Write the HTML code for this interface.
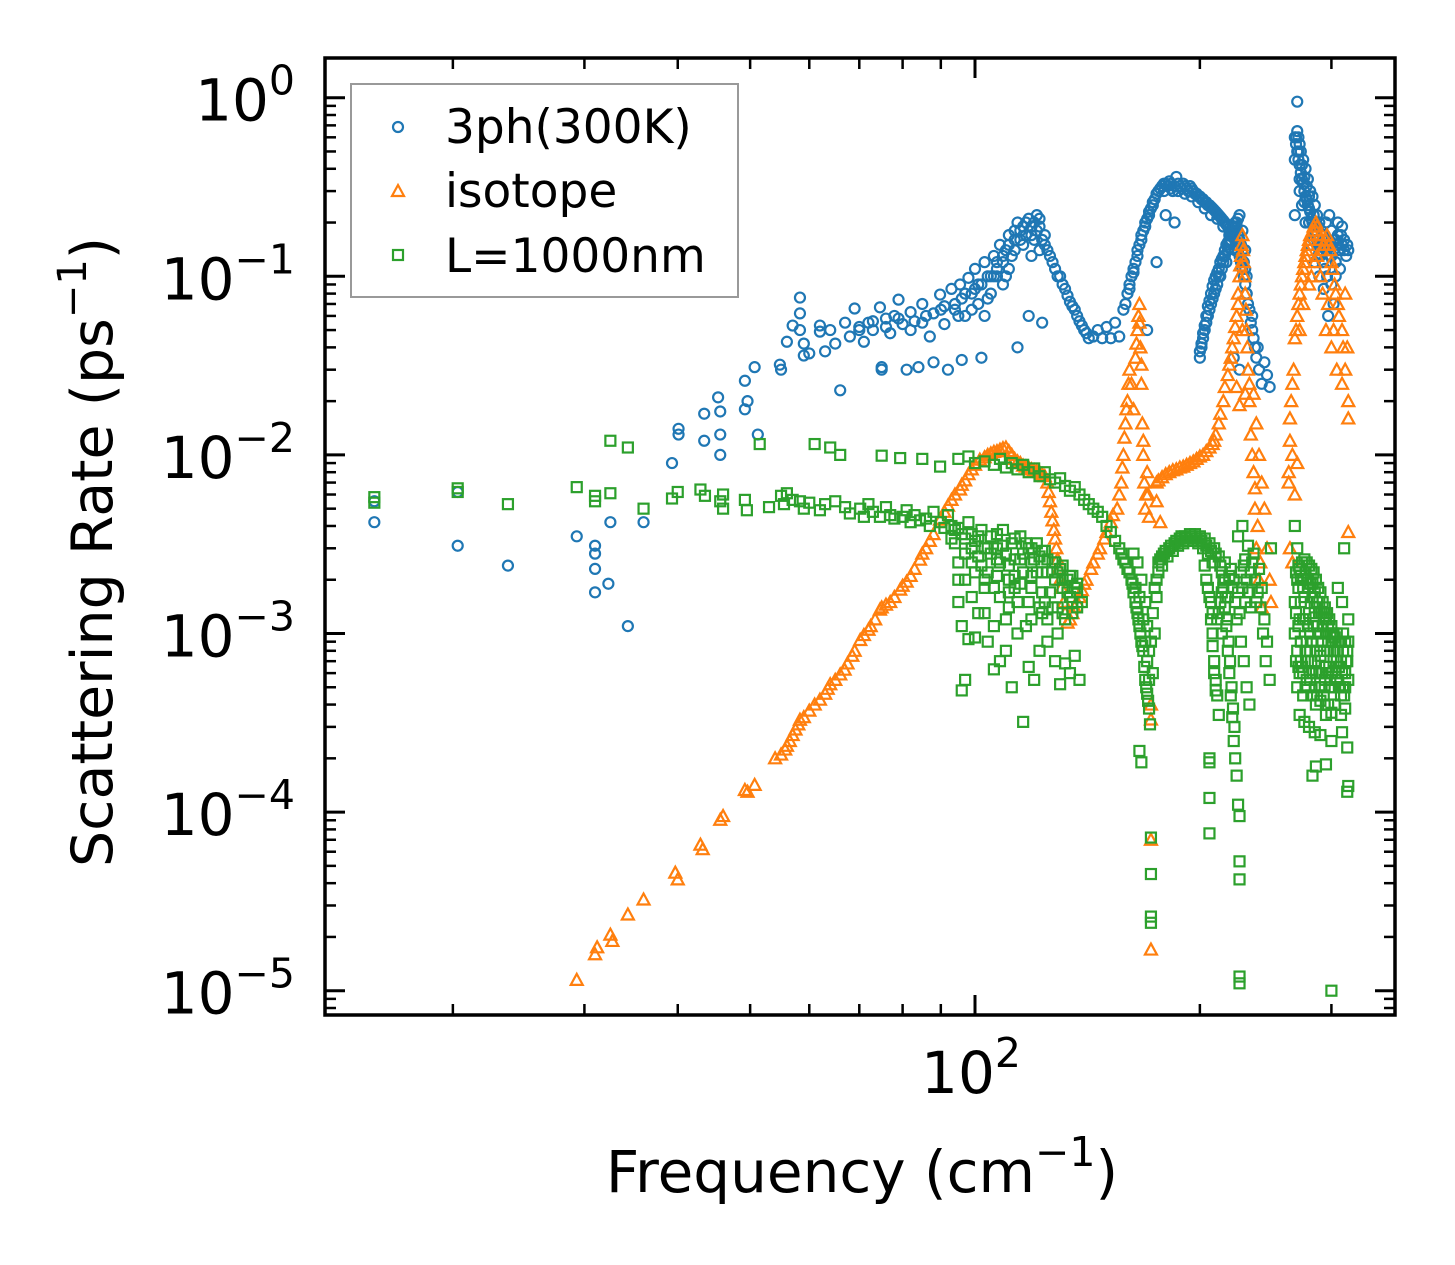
<!DOCTYPE html>
<html><head><meta charset="utf-8"><style>
html,body{margin:0;padding:0;background:#fff;}
svg{display:block;font-family:"DejaVu Sans","Liberation Sans",sans-serif;}
</style></head><body>
<svg id="chart" width="1455" height="1265" viewBox="0 0 1455 1265" xmlns="http://www.w3.org/2000/svg">
<defs><clipPath id="clip"><rect x="325" y="58" width="1070" height="957"/></clipPath></defs>
<g id="marks" clip-path="url(#clip)"></g>
<g id="axes"></g>
<g id="legend">
<rect x="351" y="84" width="387" height="213" fill="#fff" fill-opacity="0.8" stroke="#999" stroke-width="2"/>
<circle cx="398" cy="127" r="5" fill="none" stroke="#1f77b4" stroke-width="2.2"/>
<text x="445" y="143" font-size="47">3ph(300K)</text>
<path d="M398,185 L404,196 L392,196 Z" fill="none" stroke="#ff7f0e" stroke-width="2.2"/>
<text x="445" y="207" font-size="47">isotope</text>
<rect x="393" y="250" width="10" height="10" fill="none" stroke="#2ca02c" stroke-width="2.2"/>
<text x="445" y="272" font-size="47">L=1000nm</text>
</g>
<text x="862" y="1192" font-size="58" text-anchor="middle">Frequency (cm<tspan dy="-26" font-size="41">−1</tspan><tspan dy="26">)</tspan></text>
<text transform="translate(112,552) rotate(-90)" font-size="57" text-anchor="middle">Scattering Rate (ps<tspan dy="-26" font-size="40">−1</tspan><tspan dy="26">)</tspan></text>
</svg>
<script>
const yTickExps = [0, -1, -2, -3, -4, -5];
const xMajorTicks = [100];
const xMinorTicks = [20, 30, 40, 50, 60, 70, 80, 90, 200, 300];

const ph3 = [[15.7,5.5e-3],[15.7,4.2e-3],[20.3,6.2e-3],[20.3,3.1e-3],[23.7,2.4e-3],[29.3,3.5e-3],[31,3.1e-3],[31,2.8e-3],[31,2.3e-3],[31,1.7e-3],[32.3,1.9e-3],[32.5,4.2e-3],[34.3,1.1e-3],[36,4.2e-3],[39.3,9e-3],[40.1,1.4e-2],[40.1,1.3e-2],[43.4,1.2e-2],[43.4,1.7e-2],[45.3,2.1e-2],[45.6,1.75e-2],[45.6,1e-2],[45.6,1.3e-2],[49.2,2.6e-2],[49.6,2e-2],[49.2,1.8e-2],[50.7,3.1e-2],[51.2,1.3e-2],
[54.8,3.2e-2],[55,3e-2],[56,4.3e-2],[57,5.3e-2],[58.3,7.6e-2],[58.3,6.2e-2],[58.3,5e-2],[59,4.2e-2],[59,3.6e-2],[60,3.7e-2],[62,5.3e-2],[62,4.9e-2],[63,3.8e-2],[64,5e-2],[65,4.2e-2],[66,2.3e-2],[67,5.5e-2],[68,4.6e-2],[69,6.6e-2],[70,5.2e-2],[71,4.3e-2],[72,5.5e-2],[73,5e-2],[74.6,6.7e-2],[75,3e-2],[75,3.1e-2],[76,5.8e-2],[77,4.8e-2],[78,6e-2],[79,7.4e-2],[80,5.4e-2],[81,3e-2],[82,6.3e-2],[83,5.6e-2],[84,3.1e-2],[85,7e-2],[86,6e-2],[87,4.6e-2],[88,3.3e-2],[89.8,7.9e-2],[90,6.5e-2],[91,5.4e-2],[92,3e-2],[93,8.5e-2],[94,7e-2],[95,6e-2],[95.5,9e-2],[96,3.4e-2],[98,9.8e-2],[99,8e-2],[100,0.11],[101,7e-2],[102,3.5e-2],[103,0.12],[104,0.1],[105,8e-2],[106,0.13],[107,0.1],[108,0.15],[109,0.12],[110,0.14],[111,0.17],[112,0.13],[113,0.18],[114,0.2],[115,0.16],[116,0.19],[117,0.2],[118,0.21],[119,0.17],[120,0.2],[121,0.22],[122,0.19],[123,0.16],[124,0.15],[126,0.13],[128,0.11],[130,0.1],[132,8.5e-2],[134,7.2e-2],[136,6.5e-2],[138,5.6e-2],[140,5e-2],[142,4.5e-2],[144,4.6e-2],[146,5e-2],[148,4.5e-2],[150,5.2e-2],[152,4.5e-2],[154,5.5e-2],[156,4.6e-2],[118,6e-2],[123,5.5e-2],[114,4e-2],
[96,7.5e-2],[99,6.5e-2],[101,9e-2],[104,7.5e-2],[106,0.1],[109,9e-2],[111,0.11],[113,0.14],[116,0.15],[119,0.13],[122,0.14],[110,0.1],[107,0.12],[103,6e-2],
[158,6.5e-2],[160,8e-2],[162,0.1],[164,0.12],[166,0.15],[168,0.18],[170,0.21],[172,0.24],[174,0.27],[176,0.3],[178,0.32],[180,0.33],[182,0.34],[184,0.3],[186,0.36],[188,0.32],[190,0.33],[192,0.31],[194,0.32],[196,0.3],[198,0.29],[200,0.28],[202,0.27],[204,0.26],[206,0.25],[208,0.24],[210,0.23],[212,0.22],[214,0.21],[216,0.2],[218,0.19],[220,0.18],[222,0.17],[224,0.15],[226,0.13],[228,0.11],[230,9e-2],[232,7e-2],[234,5.5e-2],[236,4.5e-2],[238,3.5e-2],[240,3e-2],[242,2.5e-2],[170,0.05],[175,0.12],[180,0.22],[185,0.2],
[161,9e-2],[163,0.11],[165,0.13],[167,0.16],[169,0.2],[171,0.22],[173,0.25],[179,0.3],[183,0.31],[187,0.3],[191,0.29],[195,0.28],[199,0.26],[203,0.24],[207,0.22],[211,0.21],[215,0.19],[219,0.17],[223,0.14],[227,0.12],[231,8e-2],[235,6e-2],[239,4e-2],[244,3.3e-2],[246,2.8e-2],[248,2.4e-2],
[200,3.8e-2],[202,4.5e-2],[204,5.5e-2],[206,6.5e-2],[208,7.5e-2],[210,8.5e-2],[212,0.1],[214,0.11],[216,0.13],[218,0.14],[220,0.16],[222,0.18],[224,0.2],[226,0.22],[228,0.18],[230,0.14],[222,3.5e-2],[226,3e-2],[201,4.2e-2],[203,5e-2],[205,6e-2],[207,7e-2],[209,8e-2],[211,9e-2],[213,0.1],[215,0.12],[217,0.12],[219,0.15],[221,0.17],[223,0.19],[225,0.21],
[268,0.22],[268,0.45],[270,0.95],[270,0.65],[271,0.6],[272,0.55],[273,0.5],[275,0.45],[277,0.4],[279,0.35],[281,0.3],[283,0.28],[285,0.25],[287,0.22],[289,0.2],[291,0.18],[293,0.17],[295,0.2],[298,0.22],[300,0.18],[303,0.16],[306,0.15],[309,0.17],[312,0.14],[315,0.15],[272,0.3],[274,0.25],[277,0.2],[281,0.15],[285,0.12],[289,0.1],[293,0.085],[297,0.06],[302,0.07],[294,0.11],[306,0.2],[310,0.19],[269,0.6],[271,0.5],[274,0.42],[276,0.36],[278,0.32],[280,0.28],[284,0.22],[288,0.19],[292,0.16],[296,0.14],[300,0.13],[304,0.12]];

const ph3Dense = [[159,7e-2],[161,8.5e-2],[163,0.105],[165,0.14],[167,0.17],[169,0.19],[171,0.23],[173,0.26],[175,0.29],[177,0.31],[179,0.33],[181,0.32],[183,0.33],[185,0.32],[187,0.33],[189,0.31],[191,0.32],[193,0.3],[195,0.31],[197,0.29],[199,0.28],[201,0.27],[203,0.26],[205,0.25],[207,0.245],[209,0.235],[211,0.225],[213,0.215],[215,0.205],[217,0.195],[219,0.185],[221,0.175],[223,0.16],[225,0.14],[227,0.125],[229,0.1],[231,8e-2],[233,6.5e-2],[235,5e-2],[237,4e-2],
[200,3.5e-2],[201,4e-2],[202,4.8e-2],[203,5.3e-2],[204,6e-2],[205,6.8e-2],[206,7.3e-2],[207,8e-2],[208,8.8e-2],[209,9.5e-2],[210,0.1],[211,0.105],[212,0.11],[213,0.12],[214,0.125],[215,0.13],[216,0.14],[217,0.15],[218,0.155],[219,0.16],[220,0.17],[221,0.18],[222,0.185],[223,0.2],[224,0.19],[225,0.17],[226,0.16],[227,0.15],[228,0.14],[229,0.12],[230,0.11],[231,0.1],
[268,0.6],[269,0.55],[270,0.5],[271,0.45],[272,0.42],[273,0.38],[274,0.35],[275,0.33],[276,0.3],[277,0.28],[278,0.27],[279,0.25],[280,0.24],[281,0.23],[282,0.21],[283,0.2],[284,0.19],[285,0.18],[286,0.17],[287,0.16],[288,0.15],[289,0.14],[290,0.13],[291,0.14],[292,0.15],[293,0.16],[294,0.17],[295,0.16],[296,0.15],[297,0.16],[298,0.15],[299,0.14],[300,0.15],[302,0.14],[304,0.16],[306,0.17],[308,0.14],[310,0.15],[312,0.16],[314,0.13],[316,0.14],[272,0.35],[276,0.26],[280,0.2],[284,0.16],[288,0.13],[292,0.12],[296,0.1],[300,0.09],[304,0.1],[308,0.11],
[97,6e-2],[100,8.5e-2],[102,9e-2],[105,0.1],[107,0.11],[109,0.13],[111,0.15],[113,0.16],[115,0.18],[117,0.17],[119,0.19],[120,0.16],[121,0.18],[122,0.21],[124,0.17],[125,0.14],[127,0.12],[129,0.1],[131,9e-2],[133,7.8e-2],[135,6.8e-2],[137,6e-2],[139,5.3e-2],[141,4.8e-2],[85,5.5e-2],[88,6.2e-2],[91,6.8e-2],[94,6.5e-2],[97,8e-2],[82,5e-2],[79,5.8e-2],[76,5.2e-2],[73,5.6e-2],[70,5e-2]];

const iso = [[29.3,1.15e-5],[31,1.6e-5],[31.2,1.75e-5],[32.5,2.06e-5],[32.7,1.9e-5],[34.3,2.67e-5],[36,3.24e-5],[39.7,4.58e-5],[40,4.2e-5],[42.9,6.57e-5],[43.2,6.2e-5],[45.6,9.06e-5],[46,9.5e-5],[49.2,1.33e-4],[49.6,1.3e-4],[50.7,1.42e-4],[54,2e-4],[55.7,2.24e-4],[56.5,2.5e-4],[57.5,2.9e-4],[58.3,3.29e-4],[60,3.7e-4],[62,4.26e-4],[63.5,4.9e-4],[65,5.5e-4],[66.9,6.27e-4],[68.5,7.5e-4],[70.2,9.2e-4],[72,1.05e-3],[73.5,1.2e-3],[74.6,1.36e-3],[76,1.45e-3],[78,1.6e-3],[79.4,1.76e-3],[81,1.95e-3],[83,2.3e-3],[84.4,2.59e-3],[86,3e-3],[88,3.6e-3],[89.8,4.34e-3],[91,4.8e-3],[93,5.6e-3],[95.5,6.4e-3],[97,7.2e-3],[99,8.3e-3],[101.5,9.4e-3],[104,1e-2],[106,1.04e-2],[108,1.07e-2],[110,1.1e-2],[112,1e-2],[115,9e-3],[118,8.5e-3],[120,8.2e-3],[122,8e-3],[124,7.6e-3],[125,7e-3],[126,5.5e-3],[127,4.3e-3],[128,3.4e-3],[129,2.6e-3],[130,2e-3],[131.5,1.5e-3],[133,1.15e-3],
[134,1.2e-3],[136,1.4e-3],[138,1.6e-3],[140,1.9e-3],[143,2.3e-3],[146,2.8e-3],[149,3.4e-3],[152,4.2e-3],[155,5e-3],[157,7e-3],[158,1e-2],[159,1.5e-2],[160,2e-2],[161,3e-2],[162,2.5e-2],[163,1.8e-2],[164,3.5e-2],[165,5e-2],[166,7e-2],[166.5,4e-2],[167,2.5e-2],[167.5,1.5e-2],[168,1e-2],[168.5,7e-3],[169,5e-3],[170,8e-3],[170.5,6e-3],[171,4.5e-3],[172,4e-4],[172,7e-5],[172,1.7e-5],[172,3.3e-4],
[175,7e-3],[178,7.5e-3],[182,8e-3],[186,8.3e-3],[190,8.6e-3],[194,9e-3],[198,9.5e-3],[202,1e-2],[206,1.1e-2],[209,1.2e-2],[175,5.5e-3],[177,4.2e-3],
[212,1.5e-2],[215,2e-2],[218,2.8e-2],[220,3.5e-2],[222,4.5e-2],[224,6e-2],[225,8e-2],[226,0.1],[227,0.13],[228,0.17],[229,0.12],[230,0.08],[231,0.05],[232,3e-2],[233,2e-2],[234,1.3e-2],[236,8e-3],[237,5e-3],[238,3e-3],[240,2e-3],[242,1.4e-3],[230,2.2e-2],[226,1.9e-2],[224,2.4e-2],[228,5e-2],[236,2.2e-2],[238,1.5e-2],[240,1e-2],[242,7e-3],[244,5e-3],[246,3e-3],[248,2e-3],[249,1.5e-3],
[263,7e-3],[264,1.2e-2],[265,2e-2],[267,3e-2],[268,4.5e-2],[270,6e-2],[272,8e-2],[274,0.1],[276,0.12],[278,0.14],[280,0.16],[283,0.18],[286,0.2],[289,0.17],[292,0.14],[295,0.16],[298,0.15],[300,0.12],[303,9e-2],[306,7e-2],[310,5e-2],[313,8e-2],[315,4e-2],[316,2e-2],[316,1.6e-2],[316,3.7e-3],[264,3e-3],[266,2.5e-3],[263,8e-3],[290,0.1],[295,5e-2],[300,4e-2],[305,3e-2],[310,2.5e-2],[285,0.12],[280,0.09],[275,0.07],[272,0.05]];

const isoDense = [[55,2.1e-4],[56,2.35e-4],[57,2.7e-4],[58,3.1e-4],[59,3.4e-4],[61,4e-4],[63,4.6e-4],[64,5.2e-4],[66,5.9e-4],[67.5,6.8e-4],[69,8e-4],[71,9.8e-4],[72.5,1.1e-3],[75,1.4e-3],[77,1.5e-3],[80,1.85e-3],[82,2.1e-3],[85,2.8e-3],[87,3.3e-3],[90,4.4e-3],[92,5.2e-3],[94,6e-3],[96,6.8e-3],[98,7.8e-3],[100,8.8e-3],[103,9.7e-3],[105,1.02e-2],[107,1.05e-2],[109,1.09e-2],[111,1.05e-2],[113,9.5e-3],[114,9.2e-3],[116,8.7e-3],[117,8.6e-3],[119,8.3e-3],[121,8.1e-3],[123,7.8e-3],[125.5,6.2e-3],[126.5,4.8e-3],[127.5,3.8e-3],[128.5,3e-3],[129.5,2.3e-3],[130.5,1.8e-3],[132,1.3e-3],
[135,1.3e-3],[137,1.5e-3],[139,1.75e-3],[141,2e-3],[144,2.5e-3],[147,3e-3],[150,3.7e-3],[153,4.6e-3],[156,6e-3],[157.5,8.5e-3],[158.5,1.25e-2],[159.5,1.8e-2],[160.5,2.5e-2],[164.5,4.2e-2],[165.5,6e-2],[166,5.5e-2],[167,3.2e-2],[168,1.2e-2],[169.5,6e-3],
[176,7.2e-3],[180,7.8e-3],[184,8.2e-3],[188,8.5e-3],[192,8.8e-3],[196,9.2e-3],[200,9.8e-3],[204,1.05e-2],[208,1.15e-2],[210,1.3e-2],[213,1.7e-2],[216,2.4e-2],[219,3.2e-2],[221,4e-2],[223,5.2e-2],[225,7e-2],[226.5,0.115],[227.5,0.15],[228.5,0.14],[229.5,0.1],[230.5,6.5e-2],[231.5,4e-2],[233,2.5e-2],[235,1e-2],[237,6.5e-3],[239,4e-3],[241,2.5e-3],
[264,1.6e-2],[266,2.5e-2],[269,5e-2],[271,7e-2],[273,9e-2],[275,0.11],[277,0.13],[279,0.15],[281,0.17],[284,0.19],[287,0.19],[290,0.16],[293,0.15],[296,0.17],[299,0.14],[301,0.11],[304,8e-2],[307,6e-2],[311,4e-2],[313,3e-2],[266,1e-2],[268,6e-3],[270,9e-3],[282,0.1],[287,0.13],[292,0.08],[297,0.07],[302,0.05]];

const bnd = [[15.7,5.8e-3],[15.7,5.4e-3],[20.3,6.5e-3],[20.3,6.2e-3],[23.7,5.3e-3],[29.3,6.6e-3],[31,5.9e-3],[31,5.5e-3],[32.5,1.2e-2],[32.5,6.1e-3],[34.3,1.1e-2],[36,5e-3],[39.3,5.7e-3],[40,6.2e-3],[42.9,6.4e-3],[43.5,5.9e-3],[45.6,5.5e-3],[46,6e-3],[46,5e-3],[49.2,5.6e-3],[49.5,4.9e-3],[51.5,1.15e-2],[53,5.1e-3],[55,5.9e-3],[55.5,5.3e-3],[56,6.1e-3],[57,5.6e-3],[58.3,5.5e-3],[59,5e-3],[60,5.4e-3],[61,1.15e-2],[62,4.9e-3],[63,5.3e-3],[64,1.1e-2],[65,5.5e-3],[66,1e-2],[67,5.1e-3],[68,4.7e-3],[70.2,5e-3],[71,4.5e-3],[72,5.3e-3],[73,4.8e-3],[74.6,4.5e-3],[75,9.9e-3],[76,5.1e-3],[77,4.6e-3],[78,4.4e-3],[79.4,9.6e-3],[80,4.5e-3],[81,4.9e-3],[82,4.2e-3],[83,4.6e-3],[84.4,4.3e-3],[85,9.5e-3],[86,4.4e-3],[87,4e-3],[88,4.8e-3],[89.8,8.6e-3],[90,4.2e-3],[91,3.9e-3],[92,4.6e-3],
[95,9.5e-3],[98,9.8e-3],[100,9e-3],[103,9.2e-3],[106,8.8e-3],[108,9.5e-3],[110,8.5e-3],[112,9e-3],[114,8.3e-3],[116,8.8e-3],[118,8e-3],[120,8.4e-3],[122,7.6e-3],[124,8e-3],[126,7.3e-3],[128,7e-3],[130,7.4e-3],[132,6.7e-3],[134,6.3e-3],[136,6.6e-3],[138,6e-3],[140,5.6e-3],[142,5.3e-3],[144,5e-3],[146,4.8e-3],[148,4.5e-3],[150,4e-3],[152,3.7e-3],[154,3.3e-3],[156,3e-3],[158,2.6e-3],[160,2.3e-3],[162,2e-3],[163,1.7e-3],[164,1.5e-3],[165,1.3e-3],[166,1.1e-3],[167,9e-4],[168,8e-4],[168.5,6.5e-4],[169,5.5e-4],[170,4.6e-4],[171,3.8e-4],[171.5,3.1e-4],[166,2.2e-4],[167,1.9e-4],[172,7.2e-5],[172,4.5e-5],[172,2.6e-5],[172,2.4e-5],[163,2.8e-3],[165,2.5e-3],[167,2e-3],[169,1.5e-3],[170,1.1e-3],[171,8e-4],[173,6e-4],
[174,1e-3],[175,1.6e-3],[176,2.2e-3],[177,2.6e-3],[179,2.8e-3],[182,3e-3],[185,3.2e-3],[188,3.4e-3],[191,3.5e-3],[194,3.6e-3],[197,3.6e-3],[200,3.5e-3],[203,3.4e-3],[206,3.2e-3],[209,3e-3],[212,2.7e-3],[214,2.2e-3],[215,1.8e-3],[216,1.4e-3],[217,1.1e-3],[218,8e-4],[219,6e-4],[220,4.5e-4],[221,3.4e-4],[222,2.5e-4],[223,2e-4],[224,1.6e-4],[225,1.1e-4],[226,1.2e-5],[226,1.1e-5],[226,4.2e-5],[226,5.3e-5],[226,9.5e-5],[206,2e-4],[206,1.9e-4],[206,1.2e-4],[206,7.6e-5],[207,1.5e-3],[208,1e-3],[209,7e-4],[210,5.5e-4],[211,4.5e-4],[212,3.5e-4],[214,1e-3],[218,1.6e-3],[222,2e-3],[226,1.3e-3],[228,1.8e-3],[230,2.6e-3],[232,3.1e-3],[234,2.2e-3],[236,2.8e-3],[238,1.5e-3],[240,2.3e-3],[242,1.8e-3],[244,1.2e-3],[246,9e-4],[248,5.5e-4],[249,3e-3],[228,4e-3],[225,3.5e-3],
[178,2.4e-3],[181,2.7e-3],[184,2.9e-3],[187,3.1e-3],[190,3.2e-3],[193,3.3e-3],[196,3.3e-3],[199,3.2e-3],[202,3e-3],[205,2.8e-3],[208,2.5e-3],[204,2e-3],[206,1.6e-3],[208,1.3e-3],[211,1.2e-3],[213,1.5e-3],[216,2e-3],[220,2.3e-3],[224,1.2e-3],[227,9e-4],[229,7e-4],[231,5e-4],[233,4e-4],[230,1.5e-3],[234,1.4e-3],
[93,4e-3],[94,3.2e-3],[95,2.5e-3],[96,3.6e-3],[97,2e-3],[98,4.2e-3],[99,1.6e-3],[100,3.3e-3],[101,2.7e-3],[102,3.8e-3],[103,1.3e-3],[104,2.2e-3],[105,3.5e-3],[106,1.8e-3],[107,3e-3],[108,2.5e-3],[109,3.8e-3],[110,1.2e-3],[111,2e-3],[112,3.2e-3],[113,2.6e-3],[114,1.5e-3],[115,3.5e-3],[116,2.2e-3],[117,1.1e-3],[118,3e-3],[119,1.8e-3],[120,2.6e-3],[121,3.2e-3],[122,1.4e-3],[123,2.2e-3],[124,2.9e-3],[125,1.2e-3],[126,1.7e-3],[127,2.5e-3],[128,2e-3],[129,1.4e-3],[130,2.3e-3],[131,1.8e-3],[132,1.2e-3],[133,2e-3],[134,1.6e-3],[135,1.3e-3],[136,1.8e-3],[137,1.4e-3],[98,9.3e-4],[100,9.5e-4],[96,4.8e-4],[97,5.5e-4],[104,9e-4],[106,6.3e-4],[108,7e-4],[110,8e-4],[112,5e-4],[114,1e-3],[116,3.2e-4],[118,6.5e-4],[120,5.5e-4],[122,8e-4],[125,9e-4],[128,7e-4],[130,5.2e-4],[132,6.8e-4],[134,6e-4],[136,7.5e-4],[138,5.5e-4],[95,1.5e-3],[96,1.1e-3],[101,1.3e-3],[106,1.1e-3],[111,1.4e-3],[119,1.2e-3],[124,1.5e-3],[129,1e-3],
[94,3.8e-3],[97,3.4e-3],[99,3e-3],[102,2.4e-3],[104,3e-3],[107,2.1e-3],[110,2.8e-3],[113,2.1e-3],[116,2.8e-3],[119,2.5e-3],[122,2.7e-3],[125,2.2e-3],[128,2.5e-3],[131,2.4e-3],[134,2.1e-3],[137,1.9e-3],[100,2.2e-3],[103,1.8e-3],[108,1.6e-3],[113,1.8e-3],[118,1.5e-3],[123,1.7e-3],
[268,1.5e-3],[270,2e-3],[272,2.3e-3],[274,2.5e-3],[276,2.6e-3],[278,2.5e-3],[280,2.4e-3],[282,2.3e-3],[284,2.2e-3],[286,2e-3],[288,1.8e-3],[290,1.7e-3],[292,1.5e-3],[294,1.4e-3],[296,1.3e-3],[298,1.2e-3],[300,1.1e-3],[302,1e-3],[304,9e-4],[268,1e-3],[270,8e-4],[272,1.2e-3],[274,6.5e-4],[276,1.6e-3],[278,9e-4],[280,1.3e-3],[282,7e-4],[284,1.1e-3],[286,6e-4],[288,1e-3],[290,7.5e-4],[292,1.1e-3],[294,5.5e-4],[296,8e-4],[298,6.5e-4],[300,5e-4],[302,7e-4],[304,6e-4],[306,8e-4],[308,5e-4],[310,6e-4],[312,4.5e-4],[314,7e-4],[316,5.5e-4],[270,5e-4],[272,6e-4],[275,4.5e-4],[278,5.5e-4],[282,4.5e-4],[286,4e-4],[290,4.2e-4],[295,3.5e-4],[300,3.6e-4],[272,3.5e-4],[276,3.2e-4],[280,3e-4],[285,2.8e-4],[290,2.7e-4],[300,2.5e-4],[310,2.8e-4],[315,2.3e-4],[315,1.3e-4],[316,1.4e-4],[283,1.6e-4],[286,1.8e-4],[295,1.85e-4],[300,1e-5],[312,3e-3],[306,1.8e-3],[310,1.5e-3],[316,1.2e-3],[316,9e-4],[268,4e-3],[270,3e-3],
[271,1.8e-3],[273,1.5e-3],[275,2e-3],[277,1.2e-3],[279,1.8e-3],[281,1e-3],[283,1.6e-3],[285,1.4e-3],[287,8e-4],[289,1.3e-3],[291,9e-4],[293,1.2e-3],[295,1e-3],[297,9e-4],[299,8e-4],[301,9e-4],[303,8e-4],[305,7e-4],[307,6.5e-4],[309,7e-4],[311,8e-4],[313,5e-4]];

const bndDense = [[269,2.2e-3],[271,2.4e-3],[273,2.1e-3],[275,1.8e-3],[277,2.2e-3],[279,2e-3],[281,1.9e-3],[283,1.9e-3],[285,1.7e-3],[287,1.5e-3],[289,1.5e-3],[291,1.3e-3],[293,1.3e-3],[295,1.2e-3],[297,1.1e-3],[299,1e-3],[301,1e-3],[303,9.5e-4],[305,1e-3],[307,9e-4],[309,9e-4],[311,1e-3],[313,9e-4],[315,8e-4],[269,1.3e-3],[271,1.1e-3],[273,9e-4],[275,1.2e-3],[277,8e-4],[279,1.1e-3],[281,8e-4],[283,9e-4],[285,7e-4],[287,1.1e-3],[289,6e-4],[291,6e-4],[293,8e-4],[295,6.5e-4],[297,6e-4],[299,5.5e-4],[301,6e-4],[303,5e-4],[305,5.5e-4],[307,5e-4],[309,4.5e-4],[311,5e-4],[313,6e-4],[315,7e-4],[269,7e-4],[271,6.5e-4],[273,7e-4],[275,6e-4],[277,5e-4],[279,7e-4],[281,5.5e-4],[283,6e-4],[285,5e-4],[287,4.5e-4],[289,5e-4],[291,5e-4],[293,4.5e-4],[297,4e-4],[303,4e-4],[309,3.5e-4],[313,3.8e-4],
[175,2e-3],[176,2.5e-3],[178,2.7e-3],[180,2.9e-3],[183,3.1e-3],[186,3.3e-3],[189,3.5e-3],[192,3.4e-3],[195,3.5e-3],[198,3.4e-3],[201,3.3e-3],[204,3.1e-3],[207,2.9e-3],[210,2.8e-3],[213,2.4e-3],[215,2e-3],[216.5,1.6e-3],[217.5,1.2e-3],[218.5,9e-4],[219.5,7e-4],[220.5,5e-4],[221.5,3.8e-4],[222.5,3e-4],[203,2.4e-3],[205,1.8e-3],[207,1.2e-3],[208,8.5e-4],[209,6e-4],[210,4.8e-4],[212,1.3e-3],[214,1.7e-3],[216,2.5e-3],[219,2.1e-3],[221,1.8e-3],[223,1.5e-3],[225,1.7e-3],[227,2.2e-3],[229,2.4e-3],[231,2e-3],[233,1.7e-3],[235,2.5e-3],[237,2e-3],[239,1.7e-3],[241,1.4e-3],[243,1e-3],[245,7e-4],
[157,2.8e-3],[159,2.5e-3],[161,2.2e-3],[162.5,1.9e-3],[164.5,1.4e-3],[165.5,1.2e-3],[166.5,1e-3],[167.5,8.5e-4],[169.5,5e-4],[170.5,4.2e-4],[164,1.8e-3],[166,1.6e-3],[168,1.2e-3],[169,9e-4],[170,7e-4],[171,5.5e-4],[172,9e-4],[173,1.3e-3],[174,1.8e-3],
[93,3.4e-3],[95,3.9e-3],[97,2.8e-3],[99,3.6e-3],[101,3.5e-3],[103,3e-3],[105,2.8e-3],[107,3.6e-3],[109,3.1e-3],[111,2.4e-3],[113,3.4e-3],[115,2.6e-3],[117,3.2e-3],[119,3e-3],[121,2.2e-3],[123,2.9e-3],[125,2.6e-3],[127,2.2e-3],[129,2.2e-3],[131,2e-3],[133,1.7e-3],[135,2.1e-3],[137,1.7e-3],[139,1.5e-3],[95,2e-3],[99,2.5e-3],[103,2e-3],[107,2.6e-3],[111,1.7e-3],[115,1.9e-3],[119,2.1e-3],[123,1.3e-3],[127,1.4e-3],[131,1.3e-3],[135,1.5e-3]];

const svg = document.getElementById('chart');
const marks = document.getElementById('marks');
const axes = document.getElementById('axes');
const NS = 'http://www.w3.org/2000/svg';
function xs(f){ return 975 + 747 * (Math.log10(f) - 2); }
function ys(r){ return 97.7 - 178.6 * Math.log10(r); }
function mk(tag, attrs){ const e = document.createElementNS(NS, tag); for (const k in attrs) e.setAttribute(k, attrs[k]); return e; }

ph3.concat(ph3Dense).forEach(function(p){
  const c = mk('circle', {cx: xs(p[0]), cy: ys(p[1]), r: 5, fill: 'none', stroke: '#1f77b4', 'stroke-width': 2.2});
  
  
  marks.appendChild(c);
});
iso.concat(isoDense).forEach(function(p){
  const x = xs(p[0]), y = ys(p[1]);
  const t = mk('path', {d: 'M' + x + ',' + (y - 6) + ' L' + (x + 6) + ',' + (y + 5) + ' L' + (x - 6) + ',' + (y + 5) + ' Z', fill: 'none', stroke: '#ff7f0e', 'stroke-width': 2.2});
  
  
  marks.appendChild(t);
});
bnd.concat(bndDense).forEach(function(p){
  const s = mk('rect', {x: xs(p[0]) - 5, y: ys(p[1]) - 5, width: 10, height: 10, fill: 'none', stroke: '#2ca02c', 'stroke-width': 2.2});
  
  
  marks.appendChild(s);
});

const L = 325, R = 1395, T = 58, B = 1015;
function line(x1, y1, x2, y2, w, name){
  const l = mk('line', {x1: x1, y1: y1, x2: x2, y2: y2, stroke: '#000', 'stroke-width': w});
  
  
  axes.appendChild(l);
}
yTickExps.forEach(function(e){
  const y = ys(Math.pow(10, e));
  line(L, y, L + 20, y, 3, 'y-major-tick');
  line(R, y, R - 20, y, 3, 'y-major-tick-right');
  const t = mk('text', {x: 295, y: y + 23, 'font-size': 58, 'text-anchor': 'end'});
  
  
  const a = mk('tspan', {}); a.textContent = '10';
  const b = mk('tspan', {dy: -26, 'font-size': 41}); b.textContent = e === 0 ? '0' : '−' + (-e);
  t.appendChild(a); t.appendChild(b);
  axes.appendChild(t);
  if (e > -5) {
    for (let m = 2; m <= 9; m++) {
      const ym = ys(m * Math.pow(10, e - 1));
      line(L, ym, L + 11, ym, 2.5, 'y-minor-tick');
      line(R, ym, R - 11, ym, 2.5, 'y-minor-tick-right');
    }
  }
});
for (let m = 2; m <= 9; m++) {
  const ym = ys(m * 1e-6);
  if (ym > T && ym < B) { line(L, ym, L + 11, ym, 2.5, 'y-minor-tick'); line(R, ym, R - 11, ym, 2.5, 'y-minor-tick-right'); }
}
[2,3,4,5,6,7,8,9].forEach(function(m){
  const ym = ys(m);
  if (ym > T && ym < B) { line(L, ym, L + 11, ym, 2.5, 'y-minor-tick'); line(R, ym, R - 11, ym, 2.5, 'y-minor-tick-right'); }
});
xMajorTicks.forEach(function(f){
  const x = xs(f);
  line(x, B, x, B - 20, 3, 'x-major-tick');
  line(x, T, x, T + 20, 3, 'x-major-tick-top');
  const t = mk('text', {x: x - 4, y: 1093, 'font-size': 58, 'text-anchor': 'middle'});
  
  
  const a = mk('tspan', {}); a.textContent = '10';
  const b = mk('tspan', {dy: -26, 'font-size': 41}); b.textContent = '2';
  t.appendChild(a); t.appendChild(b);
  axes.appendChild(t);
});
xMinorTicks.forEach(function(f){
  const x = xs(f);
  line(x, B, x, B - 11, 2.5, 'x-minor-tick');
  line(x, T, x, T + 11, 2.5, 'x-minor-tick-top');
});
const fr = mk('rect', {x: L, y: T, width: R - L, height: B - T, fill: 'none', stroke: '#000', 'stroke-width': 3.5});


axes.appendChild(fr);
</script>
</body></html>
